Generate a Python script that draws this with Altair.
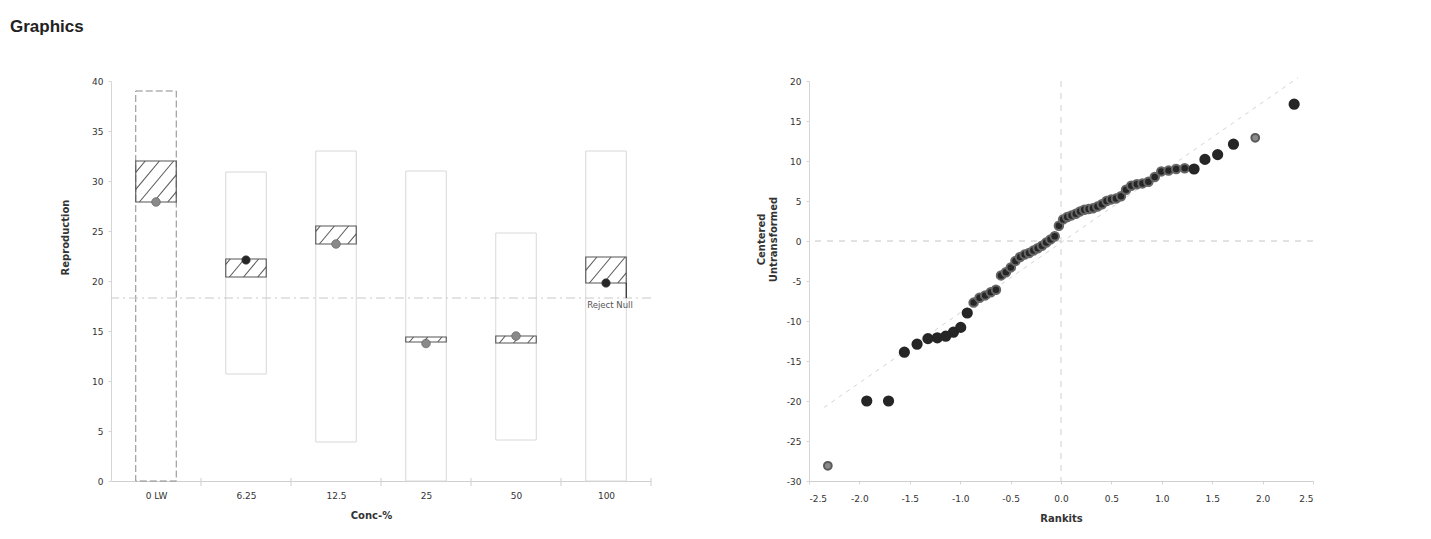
import altair as alt
import pandas as pd

# ---------------- left panel data ----------------
concs = ["0 LW", "6.25", "12.5", "25", "50", "100"]
range_lo = [0.0, 10.7, 3.9, 0.0, 4.1, 0.0]
range_hi = [39.0, 30.9, 33.0, 31.0, 24.8, 33.0]
box_lo = [27.9, 20.4, 23.7, 13.9, 13.8, 19.8]
box_hi = [32.0, 22.2, 25.5, 14.4, 14.5, 22.4]
means = [27.9, 22.1, 23.7, 13.75, 14.5, 19.8]
mean_tone = ["light", "dark", "light", "light", "light", "dark"]
control_flag = [True, False, False, False, False, False]
reject_level = 18.3
reject_index = 5
reject_text = "Reject Null"
reject_text_y = 17.6

# ---------------- right panel data ----------------
rankits = [-2.313, -1.927, -1.711, -1.554, -1.428, -1.320, -1.227, -1.143, -1.067, -0.995,
           -0.930, -0.867, -0.808, -0.752, -0.697, -0.645, -0.595, -0.546, -0.498, -0.452,
           -0.406, -0.361, -0.317, -0.274, -0.231, -0.189, -0.147, -0.104, -0.062, -0.021,
           0.021, 0.062, 0.104, 0.147, 0.189, 0.231, 0.274, 0.317, 0.361, 0.406,
           0.452, 0.498, 0.546, 0.595, 0.645, 0.697, 0.752, 0.808, 0.867, 0.930,
           0.995, 1.067, 1.143, 1.227, 1.320, 1.428, 1.554, 1.711, 1.927, 2.313]
centered = [-28.1, -20.0, -20.0, -13.9, -12.9, -12.2, -12.1, -11.9, -11.4, -10.8,
            -9.0, -7.7, -7.1, -6.8, -6.4, -6.1, -4.3, -3.9, -3.3, -2.5,
            -2.0, -1.7, -1.5, -1.2, -0.9, -0.6, -0.2, 0.2, 0.6, 1.9,
            2.7, 3.0, 3.2, 3.4, 3.7, 3.9, 4.0, 4.1, 4.3, 4.6,
            5.0, 5.2, 5.3, 5.6, 6.4, 6.9, 7.1, 7.2, 7.4, 8.0,
            8.7, 8.8, 9.0, 9.1, 9.0, 10.2, 10.8, 12.1, 12.9, 17.1]
point_tone = (["light"] + ["dark"] * 10 + ["mid"] * 43 + ["dark"] * 4 + ["light"] + ["dark"])
ref_x = [-2.35, 2.35]
ref_y = [-20.8, 20.4]

# ---------------- styling constants ----------------
LW, LH = 540, 400
RW, RH = 504, 400
HW = 0.225          # half width of a box in category units
XPX = LW / 6.0      # px per category unit
YPX = LH / 40.0     # px per y unit
HSTEP = 17.0        # hatch spacing (px)
HSLOPE = 1.2        # hatch slope (px/px)
FONT = "DejaVu Sans"
MINUS_FIX = "replace(format(datum.value, '%s'), '\u2212', '-')"

idx = list(range(len(concs)))
left_df = pd.DataFrame({
    "idx": idx, "conc": concs, "rlo": range_lo, "rhi": range_hi,
    "blo": box_lo, "bhi": box_hi, "mean": means, "tone": mean_tone,
    "control": control_flag,
})
left_df["x0"] = left_df["idx"] - HW
left_df["x1"] = left_df["idx"] + HW

# hatch segments clipped to each box
hatch = []
for i, lo, hi in zip(idx, box_lo, box_hi):
    w = 2 * HW * XPX
    h = (hi - lo) * YPX
    k = -HSLOPE * w + HSTEP * 0.6
    while k < h:
        u0 = max(0.0, -k / HSLOPE)
        u1 = min(w, (h - k) / HSLOPE)
        if u1 > u0:
            hatch.append({"x": i - HW + u0 / XPX, "y": lo + (HSLOPE * u0 + k) / YPX,
                          "x2": i - HW + u1 / XPX, "y2": lo + (HSLOPE * u1 + k) / YPX})
        k += HSTEP
hatch_df = pd.DataFrame(hatch)

bound_df = pd.DataFrame({"b": [i + 0.5 for i in idx]})

label_expr = "[" + ",".join("'%s'" % c for c in concs) + "][datum.value]"

xs = alt.Scale(domain=[-0.5, len(concs) - 0.5], nice=False, zero=False)
ys = alt.Scale(domain=[0, 40], nice=False)

x_axis = alt.Axis(values=idx, labelExpr=label_expr, ticks=False, title="Conc-%",
                  titleX=260, titlePadding=10, labelPadding=10, domainColor="#cfcfcf")
y_axis = alt.Axis(values=list(range(0, 41, 5)), title="Reproduction", titleX=-46,
                  titleY=156, titleAngle=-90, titleBaseline="middle", tickSize=3,
                  labelPadding=5, domainColor="#d6d6d6", tickColor="#d6d6d6",
                  labelOverlap=False)

base_l = alt.Chart(left_df)

outer = base_l.transform_filter("!datum.control").mark_rect(
    fillOpacity=0, stroke="#d8d8d8", strokeWidth=1
).encode(x=alt.X("x0:Q", scale=xs, axis=x_axis), x2="x1:Q",
         y=alt.Y("rlo:Q", scale=ys, axis=y_axis), y2="rhi:Q")

outer_ctrl = base_l.transform_filter("datum.control").mark_rect(
    fillOpacity=0, stroke="#8a8a8a", strokeWidth=1, strokeDash=[7, 3]
).encode(x=alt.X("x0:Q", scale=xs, axis=x_axis), x2="x1:Q",
         y=alt.Y("rlo:Q", scale=ys, axis=y_axis), y2="rhi:Q")

ref_rule = alt.Chart(pd.DataFrame({"lvl": [reject_level]})).mark_rule(
    color="#c8c8c8", strokeDash=[9, 4, 2, 4], strokeWidth=1
).encode(y=alt.Y("lvl:Q", scale=ys, axis=y_axis))

hatch_lines = alt.Chart(hatch_df).mark_rule(color="#5a5a5a", strokeWidth=1.1).encode(
    x=alt.X("x:Q", scale=xs, axis=x_axis), y=alt.Y("y:Q", scale=ys, axis=y_axis),
    x2="x2:Q", y2="y2:Q")

boxes = base_l.mark_rect(fillOpacity=0, stroke="#555555", strokeWidth=1.1).encode(
    x=alt.X("x0:Q", scale=xs, axis=x_axis), x2="x1:Q",
    y=alt.Y("blo:Q", scale=ys, axis=y_axis), y2="bhi:Q")

reject_df = pd.DataFrame({"x": [reject_index + HW], "y": [box_lo[reject_index]],
                          "y2": [reject_level], "tx": [reject_index],
                          "ty": [reject_text_y], "label": [reject_text]})
reject_rule = alt.Chart(reject_df).mark_rule(color="#222222", strokeWidth=1.2).encode(
    x=alt.X("x:Q", scale=xs, axis=x_axis), y=alt.Y("y:Q", scale=ys, axis=y_axis), y2="y2:Q")
reject_txt = alt.Chart(reject_df).mark_text(
    font=FONT, fontSize=8.5, color="#555555", align="center", baseline="middle", dx=4
).encode(x=alt.X("tx:Q", scale=xs, axis=x_axis), y=alt.Y("ty:Q", scale=ys, axis=y_axis),
         text="label:N")

mean_pts = base_l.mark_circle(opacity=1, size=75, stroke="#555555", strokeWidth=0.6).encode(
    x=alt.X("idx:Q", scale=xs, axis=x_axis), y=alt.Y("mean:Q", scale=ys, axis=y_axis),
    color=alt.Color("tone:N", scale=alt.Scale(domain=["dark", "light"],
                                              range=["#262626", "#8a8a8a"]), legend=None))

bound_ticks = alt.Chart(bound_df).mark_rule(color="#cfcfcf").encode(
    x=alt.X("b:Q", scale=xs, axis=x_axis), y=alt.value(LH - 3), y2=alt.value(LH + 5))

left = alt.layer(outer, outer_ctrl, ref_rule, hatch_lines, boxes, reject_rule,
                 reject_txt, mean_pts, bound_ticks).properties(width=LW, height=LH)

# ---------------- right panel ----------------
right_df = pd.DataFrame({"r": rankits, "c": centered, "tone": point_tone})
right_df["order"] = right_df["tone"].map({"mid": 0, "dark": 1, "light": 2})

rxs = alt.Scale(domain=[-2.5, 2.5], nice=False)
rys = alt.Scale(domain=[-30, 20], nice=False)
rx_axis = alt.Axis(values=[v / 2 for v in range(-5, 6)], labelExpr=MINUS_FIX % ".1f",
                   title="Rankits", titlePadding=10, labelPadding=10, tickSize=3,
                   domainColor="#cfcfcf", tickColor="#d6d6d6", labelOverlap=False)
ry_axis = alt.Axis(values=list(range(-30, 21, 5)), labelExpr=MINUS_FIX % "d",
                   title=["Centered", "Untransformed"],
                   titleX=-48, titleY=158, titleAngle=-90, titleBaseline="middle",
                   tickSize=3, labelPadding=5, domainColor="#d6d6d6", tickColor="#d6d6d6",
                   labelOverlap=False)

zero_h = alt.Chart(pd.DataFrame({"v": [0]})).mark_rule(
    color="#c4c4c4", strokeDash=[6, 6]).encode(y=alt.Y("v:Q", scale=rys, axis=ry_axis))
zero_v = alt.Chart(pd.DataFrame({"v": [0]})).mark_rule(
    color="#cfcfcf", strokeDash=[6, 6]).encode(x=alt.X("v:Q", scale=rxs, axis=rx_axis))
ref_line = alt.Chart(pd.DataFrame({"x": ref_x, "y": ref_y})).mark_line(
    color="#d4d4d4", strokeWidth=1, strokeDash=[4, 5]).encode(
    x=alt.X("x:Q", scale=rxs, axis=rx_axis), y=alt.Y("y:Q", scale=rys, axis=ry_axis))
pts = alt.Chart(right_df).mark_point(filled=True, opacity=1).encode(
    x=alt.X("r:Q", scale=rxs, axis=rx_axis), y=alt.Y("c:Q", scale=rys, axis=ry_axis),
    color=alt.Color("tone:N", scale=alt.Scale(domain=["dark", "mid", "light"],
                                              range=["#262626", "#777777", "#8c8c8c"]),
                    legend=None),
    size=alt.Size("tone:N", scale=alt.Scale(domain=["dark", "mid", "light"],
                                            range=[85, 60, 65]), legend=None),
    stroke=alt.Stroke("tone:N", scale=alt.Scale(domain=["dark", "mid", "light"],
                                                range=["#262626", "#666666", "#5a5a5a"]),
                      legend=None),
    order="order:Q")

right = alt.layer(zero_h, zero_v, ref_line, pts).properties(width=RW, height=RH)

chart = alt.hconcat(left, right, spacing=104).properties(
    title=alt.TitleParams("Graphics", anchor="start", fontSize=17, font="Liberation Sans",
                          fontWeight="bold", color="#222222", dx=-50, offset=40),
    padding={"left": 2, "top": 9, "right": 10, "bottom": 5},
).configure_view(stroke=None).configure_axis(
    grid=False, labelFont=FONT, labelFontSize=9, labelColor="#333333",
    titleFont=FONT, titleFontSize=10, titleFontWeight="bold", titleColor="#333333"
).configure_concat(spacing=104)

chart.save("out.html", embed_options={"renderer": "svg", "actions": False})
